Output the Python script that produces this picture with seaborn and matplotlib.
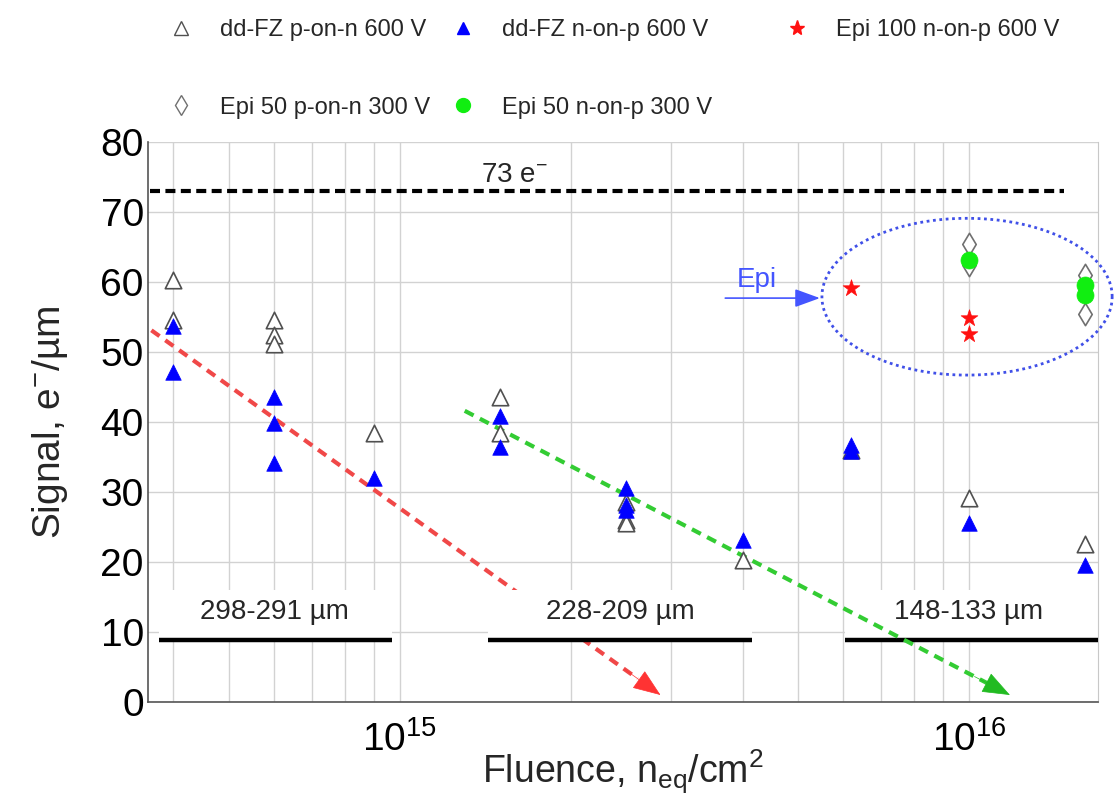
import numpy as np
import matplotlib
matplotlib.use("Agg")
import matplotlib.pyplot as plt
from matplotlib.lines import Line2D
import seaborn as sns

sns.set_style("white")
plt.rcParams['font.family'] = ['Liberation Sans', 'DejaVu Sans']
plt.rcParams['mathtext.fontset'] = 'custom'
plt.rcParams['mathtext.rm'] = 'Liberation Sans'
plt.rcParams['mathtext.it'] = 'Liberation Sans:italic'
plt.rcParams['mathtext.bf'] = 'Liberation Sans:bold'

# ---------------- data ----------------
fz_pn_x = [4e14, 4e14, 6e14, 6e14, 6e14, 9e14, 1.5e15, 1.5e15,
           2.5e15, 2.5e15, 2.5e15, 4e15, 6.2e15, 1e16, 1.6e16]
fz_pn_y = [60.3, 54.6, 54.6, 52.4, 51.1, 38.5, 43.6, 38.4,
           28.6, 26.0, 25.6, 20.3, 36.0, 29.1, 22.6]

fz_np_x = [4e14, 4e14, 6e14, 6e14, 6e14, 9e14, 1.5e15, 1.5e15,
           2.5e15, 2.5e15, 2.5e15, 4e15, 6.2e15, 6.2e15, 1e16, 1.6e16]
fz_np_y = [53.7, 47.2, 43.6, 39.9, 34.2, 32.0, 40.8, 36.4,
           30.6, 28.1, 27.4, 23.1, 36.7, 35.8, 25.6, 19.6]

epi100_np_x = [6.2e15, 1e16, 1e16]
epi100_np_y = [59.1, 54.8, 52.6]

epi50_pn_x = [1e16, 1e16, 1.6e16, 1.6e16]
epi50_pn_y = [65.5, 62.4, 61.0, 55.4]

epi50_np_x = [1e16, 1.6e16, 1.6e16]
epi50_np_y = [63.1, 59.6, 58.1]

labels = ["dd-FZ p-on-n 600 V", "dd-FZ n-on-p 600 V", "Epi 100 n-on-p 600 V",
          "Epi 50 p-on-n 300 V", "Epi 50 n-on-p 300 V"]

# thickness bands (fluence ranges, level) and labels
band_x0 = [3.78e14, 1.43e15, 6.05e15]
band_x1 = [9.7e14, 4.16e15, 1.70e16]
band_y = 8.9
band_box_top = 16.0
band_labels = ["298-291 µm", "228-209 µm", "148-133 µm"]
band_label_x = [6.03e14, 2.44e15, 1.0e16]
band_label_y = 12.9

# 73 e- reference
ref_level = 73
ref_x = [3.64e14, 1.47e16]

# trend arrows (start, end)
red_start, red_end = (3.66e14, 53.1), (2.87e15, 1.0)
green_start, green_end = (1.30e15, 41.6), (1.18e16, 1.0)

# Epi ellipse (center in log-x, y; semi-axes in decades and signal units)
ell_cx, ell_cy, ell_a, ell_b = 9.92e15, 57.9, 0.255, 11.2
epi_arrow_x = [3.73e15, 5.47e15]
epi_arrow_y = 57.7
epi_text_xy = (4.24e15, 60.3)

# ---------------- figure ----------------
W, H = 1115, 797
fig = plt.figure(figsize=(W / 100, H / 100), dpi=100)
ax = fig.add_axes([148 / W, 1 - 702 / H, (1098 - 148) / W, (702 - 142) / H])

ax.set_xscale("log")
ax.set_xlim(3.61e14, 1.685e16)
ax.set_ylim(0, 80)

# grid
ax.grid(which="major", axis="y", color="#d2d2d2", lw=1.0, zorder=0)
ax.grid(which="both", axis="x", color="#d2d2d2", lw=1.0, zorder=0)
ax.set_axisbelow(True)

# ticks
ax.yaxis.set_major_locator(matplotlib.ticker.MultipleLocator(10))
ax.yaxis.set_minor_locator(matplotlib.ticker.MultipleLocator(2))
ax.xaxis.set_major_locator(matplotlib.ticker.LogLocator(base=10, numticks=10))
ax.xaxis.set_minor_locator(matplotlib.ticker.LogLocator(base=10, subs=np.arange(2, 10), numticks=20))
ax.xaxis.set_minor_formatter(matplotlib.ticker.NullFormatter())
ax.xaxis.set_major_formatter(matplotlib.ticker.FuncFormatter(
    lambda v, p: r"$10^{%d}$" % int(round(np.log10(v)))))
ax.tick_params(which="both", direction="in", colors="#555555", labelcolor="black",
               labelsize=28)
ax.tick_params(which="major", length=9, width=1.2)
ax.tick_params(which="minor", length=5, width=1.0)
ax.tick_params(axis="y", pad=3)
ax.tick_params(axis="x", pad=14)

for s in ["left", "bottom"]:
    ax.spines[s].set_color("#555555")
    ax.spines[s].set_linewidth(1.2)
ax.spines["top"].set_visible(False)
ax.spines["right"].set_color("#c8c8c8")

ax.set_xlabel(r"Fluence, n$_{\mathrm{eq}}$/cm$^{2}$", fontsize=27, labelpad=-8)
ax.set_ylabel(r"Signal, e$^{-}$/µm", fontsize=28, labelpad=22)


def along(p0, p1, t):
    lx = np.log10(p0[0]) + t * (np.log10(p1[0]) - np.log10(p0[0]))
    return 10 ** lx, p0[1] + t * (p1[1] - p0[1])


# red trend (drawn under the label boxes)
tr = 0.955
pr = along(red_start, red_end, tr)
ax.plot([red_start[0], pr[0]], [red_start[1], pr[1]], color="#f04848", lw=3,
        ls=(0, (2.4, 1.7)), zorder=2)
ax.annotate("", xy=red_end, xytext=along(red_start, red_end, 0.93),
            arrowprops=dict(arrowstyle="-|>,head_length=1.3,head_width=0.5",
                            color="#ff3333", lw=0.5, shrinkA=0, shrinkB=0,
                            mutation_scale=14), zorder=3)

# label boxes and thickness bands
for x0, x1 in zip(band_x0, band_x1):
    ax.fill_between([x0, x1], band_y, band_box_top, color="white", lw=0, zorder=2.5)
    ax.plot([x0, x1], [band_y, band_y], color="black", lw=3.2, zorder=3,
            solid_capstyle="butt")
for t, x in zip(band_labels, band_label_x):
    ax.text(x, band_label_y, t, fontsize=20, ha="center", va="center", zorder=3)

# green trend
tg = 0.96
pg = along(green_start, green_end, tg)
ax.plot([green_start[0], pg[0]], [green_start[1], pg[1]], color="#33cc33", lw=3,
        ls=(0, (2.4, 1.7)), zorder=3)
ax.annotate("", xy=green_end, xytext=along(green_start, green_end, 0.935),
            arrowprops=dict(arrowstyle="-|>,head_length=1.3,head_width=0.5",
                            color="#22bb22", lw=0.5, shrinkA=0, shrinkB=0,
                            mutation_scale=14), zorder=3)

# 73 e- line
ax.plot(ref_x, [ref_level, ref_level], color="black", lw=3, ls=(0, (2.4, 1.3)), zorder=3)
ax.text(1.59e15, 75.3, r"73 e$^{-}$", fontsize=20, ha="center", va="center")

# Epi ellipse
tt = np.linspace(0, 2 * np.pi, 400)
ex = 10 ** (np.log10(ell_cx) + ell_a * np.cos(tt))
ey = ell_cy + ell_b * np.sin(tt)
ax.plot(ex, ey, color="#4050e8", lw=2, ls=(0, (1.0, 1.3)), zorder=4, clip_on=False)
ax.annotate("", xy=(epi_arrow_x[1], epi_arrow_y), xytext=(epi_arrow_x[0], epi_arrow_y),
            arrowprops=dict(arrowstyle="-|>,head_length=1.1,head_width=0.4",
                            color="#4455ff", lw=1.2, shrinkA=0, shrinkB=0,
                            mutation_scale=14), zorder=4)
ax.text(*epi_text_xy, "Epi", fontsize=20, color="#4455ff", ha="center", va="center")

# data points
sns.scatterplot(x=fz_pn_x, y=fz_pn_y, ax=ax, marker="^", s=140, facecolor="white",
                edgecolor="#505050", linewidth=1.2, zorder=5)
sns.scatterplot(x=fz_np_x, y=fz_np_y, ax=ax, marker="^", s=125, facecolor="#0000ff",
                edgecolor="#0000ff", linewidth=0.5, zorder=6)
sns.scatterplot(x=epi100_np_x, y=epi100_np_y, ax=ax, marker="*", s=160, facecolor="#ff1010",
                edgecolor="#ff1010", linewidth=0.5, zorder=6)
sns.scatterplot(x=epi50_pn_x, y=epi50_pn_y, ax=ax, marker="d", s=130, facecolor="white",
                edgecolor="#707070", linewidth=1.2, zorder=6)
sns.scatterplot(x=epi50_np_x, y=epi50_np_y, ax=ax, marker="o", s=150, facecolor="#11ee11",
                edgecolor="#11ee11", linewidth=0.5, zorder=7)

# legend (three columns placed separately)
h_pn = Line2D([], [], ls="none", marker="^", ms=10, mfc="white", mec="#505050", mew=1.0)
h_np = Line2D([], [], ls="none", marker="^", ms=9, mfc="#0000ff", mec="#0000ff")
h_e100 = Line2D([], [], ls="none", marker="*", ms=11, mfc="#ff1010", mec="#ff1010")
h_e50pn = Line2D([], [], ls="none", marker="d", ms=10, mfc="white", mec="#707070", mew=1.0)
h_e50np = Line2D([], [], ls="none", marker="o", ms=10, mfc="#11ee11", mec="#11ee11")

cols = [([h_pn, h_e50pn], [labels[0], labels[3]], 169.2),
        ([h_np, h_e50np], [labels[1], labels[4]], 451.2),
        ([h_e100], [labels[2]], 785.2)]
for hs, ls_, x0 in cols:
    fig.legend(hs, ls_, loc="upper left", bbox_to_anchor=(x0 / W, 0.976),
               frameon=False, fontsize=17, handlelength=1.0, handletextpad=1.15,
               borderpad=0, borderaxespad=0, labelspacing=2.35)

fig.savefig("out.png", dpi=100)
